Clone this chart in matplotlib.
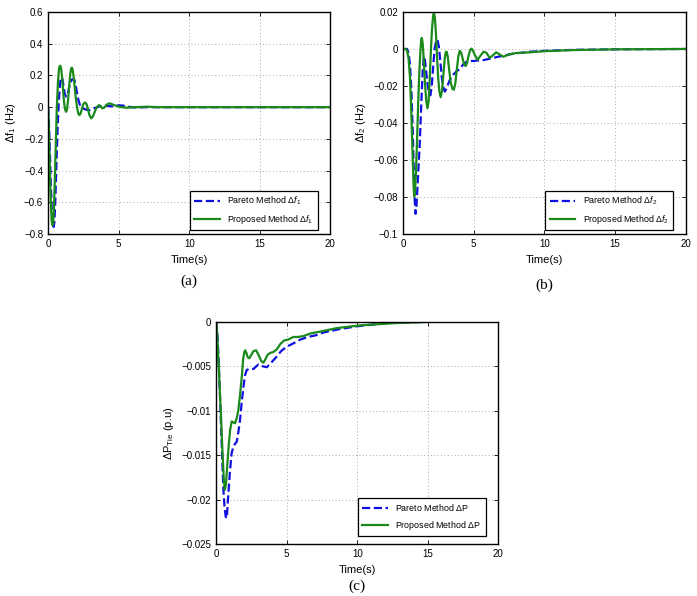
import numpy as np
import matplotlib
matplotlib.use("Agg")
import matplotlib.pyplot as plt
from matplotlib.ticker import FuncFormatter

plt.rcParams['font.family'] = ['Liberation Sans', 'DejaVu Sans']
plt.rcParams['mathtext.fontset'] = 'custom'
plt.rcParams['mathtext.rm'] = 'Liberation Sans'
plt.rcParams['mathtext.it'] = 'Liberation Sans:italic'

# (a) delta f1
t_a_pareto = [0, 0.05, 0.1, 0.15, 0.2, 0.25, 0.3, 0.35, 0.4, 0.45,
              0.5, 0.56, 0.62, 0.68, 0.75, 0.82, 0.88, 0.95, 1.02, 1.1,
              1.18, 1.28, 1.38, 1.48, 1.58, 1.7, 1.8, 1.87, 1.95, 2.05,
              2.15, 2.27, 2.4, 2.6, 2.8, 2.98, 3.15, 3.35, 3.6, 3.85,
              4.1, 4.4, 4.7, 5.0, 5.3, 5.6, 5.9, 6.3, 7.0, 20]
f1_pareto = [0, -0.08, -0.2, -0.35, -0.5, -0.62, -0.7, -0.745, -0.754, -0.72,
             -0.62, -0.45, -0.28, -0.12, 0.02, 0.12, 0.175, 0.19, 0.175, 0.13,
             0.085, 0.066, 0.08, 0.12, 0.155, 0.175, 0.176, 0.17, 0.14, 0.09,
             0.045, 0.01, -0.005, -0.012, -0.018, -0.018, -0.012, -0.004, 0.004, 0.008,
             0.01, 0.006, 0.006, 0.012, 0.01, 0.005, 0.0, -0.002, 0, 0]
t_a_prop = [0, 0.05, 0.1, 0.15, 0.2, 0.25, 0.3, 0.33, 0.37, 0.42,
            0.48, 0.55, 0.62, 0.7, 0.77, 0.82, 0.87, 0.92, 0.98, 1.05,
            1.12, 1.2, 1.28, 1.35, 1.42, 1.5, 1.58, 1.64, 1.68, 1.73,
            1.8, 1.88, 1.96, 2.05, 2.14, 2.22, 2.3, 2.4, 2.5, 2.62,
            2.72, 2.82, 2.93, 3.05, 3.17, 3.3, 3.45, 3.6, 3.72, 3.83,
            3.95, 4.1, 4.22, 4.35, 4.5, 4.65, 4.82, 5.0, 5.2, 5.53,
            5.8, 6.2, 7.0, 8.0, 20]
f1_prop = [0, -0.12, -0.3, -0.48, -0.62, -0.71, -0.74, -0.743, -0.72, -0.62,
           -0.45, -0.22, 0.0, 0.16, 0.24, 0.258, 0.261, 0.245, 0.2, 0.12,
           0.04, -0.015, -0.029, -0.01, 0.05, 0.14, 0.215, 0.245, 0.249, 0.24,
           0.2, 0.13, 0.06, 0.0, -0.04, -0.05, -0.04, -0.01, 0.02, 0.03,
           0.02, -0.01, -0.05, -0.07, -0.06, -0.03, 0.0, 0.013, 0.008, -0.007,
           -0.004, 0.01, 0.02, 0.024, 0.02, 0.014, 0.009, 0.004, 0.0, -0.003,
           -0.002, 0.0, 0.003, 0, 0]

# (b) delta f2
t_b_pareto = [0, 0.3, 0.4, 0.5, 0.6, 0.7, 0.78, 0.84, 0.9, 0.96,
              1.03, 1.1, 1.2, 1.3, 1.4, 1.48, 1.56, 1.66, 1.76, 1.86,
              1.95, 2.04, 2.14, 2.24, 2.34, 2.45, 2.55, 2.65, 2.76, 2.87,
              2.97, 3.1, 3.3, 3.55, 3.8, 4.0, 4.3, 4.6, 5.0, 5.3,
              5.7, 6.0, 6.4, 6.85, 7.3, 7.8, 8.4, 9.0, 10, 12,
              15, 20]
f2_pareto = [0, 0, -0.002, -0.008, -0.022, -0.045, -0.068, -0.082, -0.089, -0.085,
             -0.075, -0.065, -0.05, -0.03, -0.012, -0.004, -0.006, -0.013, -0.02, -0.024,
             -0.025, -0.02, -0.01, 0.0, 0.004, 0.005, 0.001, -0.007, -0.016, -0.021,
             -0.023, -0.021, -0.017, -0.014, -0.012, -0.011, -0.008, -0.0065, -0.0065, -0.0062,
             -0.006, -0.0055, -0.0048, -0.004, -0.0033, -0.0025, -0.002, -0.0015, -0.001, -0.0005,
             -0.0002, 0]
t_b_prop = [0, 0.2, 0.3, 0.4, 0.5, 0.6, 0.7, 0.76, 0.8, 0.85,
            0.92, 1.0, 1.08, 1.16, 1.24, 1.3, 1.34, 1.4, 1.48, 1.56,
            1.65, 1.74, 1.82, 1.9, 1.98, 2.06, 2.14, 2.2, 2.26, 2.34,
            2.42, 2.5, 2.58, 2.67, 2.76, 2.86, 2.96, 3.04, 3.1, 3.17,
            3.27, 3.38, 3.5, 3.6, 3.7, 3.8, 3.92, 4.02, 4.12, 4.25,
            4.35, 4.44, 4.54, 4.66, 4.78, 4.86, 4.96, 5.1, 5.28, 5.45,
            5.7, 5.9, 6.14, 6.35, 6.6, 6.85, 7.1, 7.5, 8.0, 9.0,
            10, 12, 15, 20]
f2_prop = [0, 0, -0.001, -0.005, -0.015, -0.035, -0.06, -0.074, -0.0797, -0.078,
           -0.068, -0.05, -0.03, -0.013, -0.001, 0.005, 0.006, 0.003, -0.006, -0.018,
           -0.028, -0.032, -0.028, -0.016, -0.001, 0.011, 0.018, 0.0195, 0.017, 0.008,
           -0.005, -0.016, -0.023, -0.026, -0.023, -0.014, -0.005, -0.0015, -0.0016, -0.004,
           -0.011, -0.018, -0.0215, -0.022, -0.019, -0.012, -0.004, -0.001, -0.002, -0.006,
           -0.0085, -0.0092, -0.0075, -0.003, -0.0002, 0.0002, -0.001, -0.0035, -0.0058, -0.004,
           -0.0015, -0.002, -0.0048, -0.0035, -0.0018, -0.003, -0.0042, -0.003, -0.0022, -0.0018,
           -0.0012, -0.0006, -0.0002, 0]

# (c) delta P tie
t_c_pareto = [0, 0.1, 0.2, 0.35, 0.45, 0.52, 0.6, 0.68, 0.76, 0.85,
              0.99, 1.1, 1.23, 1.35, 1.46, 1.58, 1.7, 1.82, 1.94, 2.05,
              2.18, 2.4, 2.65, 2.85, 3.0, 3.3, 3.6, 3.9, 4.3, 4.6,
              5.0, 5.5, 5.96, 6.5, 7.1, 7.6, 8.8, 10, 12.3, 15, 20]
p_pareto = [0, -0.0015, -0.005, -0.0115, -0.016, -0.0189, -0.0208, -0.0219, -0.0221, -0.0198,
            -0.0167, -0.0148, -0.014, -0.0137, -0.0135, -0.0124, -0.011, -0.009, -0.0073, -0.006,
            -0.0054, -0.0053, -0.0053, -0.005, -0.0048, -0.005, -0.0051, -0.0046, -0.0039, -0.0033,
            -0.0028, -0.0024, -0.002, -0.0017, -0.0015, -0.0012, -0.0008, -0.0005, -0.0001, 0, 0]
t_c_prop = [0, 0.05, 0.2, 0.33, 0.45, 0.55, 0.62, 0.7, 0.8, 0.9,
            1.0, 1.11, 1.22, 1.35, 1.47, 1.58, 1.7, 1.82, 1.92, 2.0,
            2.06, 2.15, 2.25, 2.36, 2.5, 2.65, 2.84, 3.0, 3.2, 3.35,
            3.5, 3.65, 3.83, 4.05, 4.3, 4.55, 4.82, 5.1, 5.48, 5.8,
            6.19, 6.7, 7.38, 8.56, 10.2, 12.6, 15, 20]
p_prop = [0, -0.0005, -0.0055, -0.0099, -0.0145, -0.0178, -0.0189, -0.0183, -0.016, -0.0138,
          -0.0121, -0.0112, -0.0113, -0.0114, -0.0108, -0.0099, -0.0082, -0.0062, -0.0042, -0.0034,
          -0.0032, -0.0035, -0.004, -0.0041, -0.0037, -0.0033, -0.0032, -0.0037, -0.0044, -0.0046,
          -0.0042, -0.0037, -0.0035, -0.0034, -0.0031, -0.0025, -0.0021, -0.002, -0.0017, -0.0017,
          -0.0016, -0.0013, -0.0011, -0.0007, -0.0004, -0.00015, 0, 0]

blue = '#1010e0'
green = '#1a8a1a'


def fmt(v, pos):
    v = float(np.round(v, 6))
    if v == 0:
        return '0'
    return f'{v:g}'.replace('-', '\u2212')


def setup(ax, ylim, yticks, ylabel, letter, letter_y, leg_anchor):
    ax.set_xlim(0, 20)
    ax.set_ylim(*ylim)
    ax.set_xticks([0, 5, 10, 15, 20])
    ax.set_yticks(yticks)
    ax.yaxis.set_major_formatter(FuncFormatter(fmt))
    ax.tick_params(direction='in', top=True, right=True, labelsize=7, length=3, width=0.6)
    ax.grid(True, linestyle=(0, (1, 2.5)), color='#aaaaaa', linewidth=0.7)
    for s in ax.spines.values():
        s.set_linewidth(1.0)
    ax.set_xlabel('Time(s)', fontsize=8)
    ax.set_ylabel(ylabel, fontsize=8)
    leg = ax.legend(loc='lower right', bbox_to_anchor=leg_anchor, fontsize=6.4, fancybox=False,
                    edgecolor='black', framealpha=1, handlelength=2.9, borderpad=0.5,
                    labelspacing=0.6, borderaxespad=0)
    leg.get_frame().set_linewidth(0.9)
    ax.text(0.5, letter_y, letter, transform=ax.transAxes, ha='center', va='center',
            fontsize=11, family='Liberation Serif')


fig = plt.figure(figsize=(6.97, 5.96), dpi=100)

ax1 = fig.add_axes([0.069, 0.607, 0.405, 0.373])
ax1.plot(t_a_pareto, f1_pareto, '--', color=blue, lw=1.6, label=r'Pareto Method $\Delta f_1$')
ax1.plot(t_a_prop, f1_prop, '-', color=green, lw=1.6, label=r'Proposed Method $\Delta f_1$')
setup(ax1, (-0.8, 0.6), np.arange(-0.8, 0.61, 0.2), r'$\Delta$f$_1$ (Hz)', '(a)', -0.21,
      (0.955, 0.018))

ax2 = fig.add_axes([0.578, 0.607, 0.406, 0.373])
ax2.plot(t_b_pareto, f2_pareto, '--', color=blue, lw=1.6, label=r'Pareto Method $\Delta f_2$')
ax2.plot(t_b_prop, f2_prop, '-', color=green, lw=1.6, label=r'Proposed Method $\Delta f_2$')
setup(ax2, (-0.1, 0.02), np.arange(-0.1, 0.021, 0.02), r'$\Delta$f$_2$ (Hz)', '(b)', -0.23,
      (0.955, 0.018))

ax3 = fig.add_axes([0.31, 0.087, 0.405, 0.373])
ax3.plot(t_c_pareto, p_pareto, '--', color=blue, lw=1.6, label=r'Pareto Method $\Delta$P')
ax3.plot(t_c_prop, p_prop, '-', color=green, lw=1.6, label=r'Proposed Method $\Delta$P')
setup(ax3, (-0.025, 0), np.arange(-0.025, 0.0001, 0.005), r'$\Delta$P$_{\mathrm{Tie}}$ (p.u)',
      '(c)', -0.19, (0.955, 0.036))

fig.savefig('out.png', dpi=100)
